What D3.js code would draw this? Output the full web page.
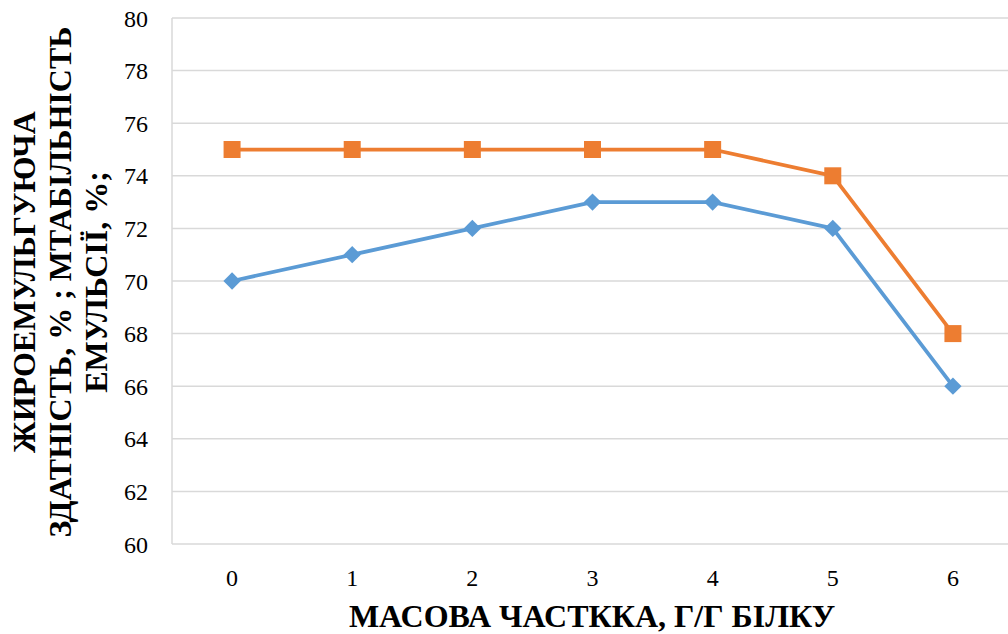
<!DOCTYPE html>
<html>
<head>
<meta charset="utf-8">
<script src="https://cdn.jsdelivr.net/npm/d3@7/dist/d3.min.js"></script>
<style>
  html, body { margin: 0; padding: 0; background: #fff; }
  svg { display: block; }
  text { font-family: "Liberation Serif", "Times New Roman", serif; fill: #000; }
</style>
</head>
<body>
<svg id="chart" width="1008" height="634"></svg>
<script>
// Mass fraction, g/g protein
const categories = ["0", "1", "2", "3", "4", "5", "6"];
// Fat-emulsifying capacity, %
const capacityValues = [70, 71, 72, 73, 73, 72, 66];
// Emulsion stability, %
const stabilityValues = [75, 75, 75, 75, 75, 74, 68];
const yTicks = [60, 62, 64, 66, 68, 70, 72, 74, 76, 78, 80];

const xTitle = "МАСОВА ЧАСТККА, Г/Г БІЛКУ";
const yTitleLines = ["ЖИРОЕМУЛЬГУЮЧА", "ЗДАТНІСТЬ, % ; МТАБІЛЬНІСТЬ", "ЕМУЛЬСІЇ, %;"];

const serif = "'Liberation Serif', 'Times New Roman', serif";
const svg = d3.select("#chart");
const plot = { left: 172, right: 1013, top: 18, bottom: 544 };

const x = d3.scaleBand().domain(categories).range([plot.left, plot.right]);
const y = d3.scaleLinear().domain([60, 80]).range([plot.bottom, plot.top]);
const cx = d => x(d) + x.bandwidth() / 2;

// Horizontal gridlines
svg.append("g")
  .selectAll("line")
  .data(yTicks)
  .join("line")
  .attr("x1", plot.left).attr("x2", plot.right)
  .attr("y1", d => y(d)).attr("y2", d => y(d))
  .attr("stroke", "#d9d9d9").attr("stroke-width", 1.5);

// Left border of the plot area
svg.append("line")
  .attr("x1", plot.left).attr("x2", plot.left)
  .attr("y1", plot.top).attr("y2", plot.bottom)
  .attr("stroke", "#d9d9d9").attr("stroke-width", 1.5);

// Y tick labels
const yAxis = svg.append("g")
  .attr("transform", `translate(${plot.left - 24},0)`)
  .call(d3.axisLeft(y).tickValues(yTicks).tickSize(0).tickPadding(0))
  .attr("font-family", serif).attr("font-size", 24);
yAxis.select(".domain").remove();
yAxis.selectAll("text")
  .style("font-family", serif).style("font-size", "24px").attr("fill", "#000")
  .attr("dy", "0.34em");

// X tick labels
const xAxis = svg.append("g")
  .attr("transform", `translate(0,${plot.bottom})`)
  .call(d3.axisBottom(x).tickSize(0).tickPadding(0))
  .attr("font-family", serif).attr("font-size", 24);
xAxis.select(".domain").remove();
xAxis.selectAll("text")
  .style("font-family", serif).style("font-size", "24px").attr("fill", "#000")
  .attr("y", 42).attr("dy", 0);

// Axis titles
svg.append("text")
  .attr("x", 592).attr("y", 627)
  .attr("text-anchor", "middle")
  .style("font-family", serif).style("font-size", "32px").style("font-weight", "bold")
  .text(xTitle);

const yTitle = svg.append("text")
  .attr("transform", "translate(35,282) rotate(-90)")
  .attr("text-anchor", "middle")
  .style("font-family", serif).style("font-size", "32px").style("font-weight", "bold");
yTitleLines.forEach((t, i) => {
  yTitle.append("tspan").attr("x", 0).attr("dy", i === 0 ? 0 : 36).text(t);
});

const line = d3.line().x((d, i) => cx(categories[i])).y(d => y(d));

// Fat-emulsifying capacity (blue, diamonds)
svg.append("path")
  .datum(capacityValues)
  .attr("d", line)
  .attr("fill", "none").attr("stroke", "#5b9bd5").attr("stroke-width", 3.75)
  .attr("stroke-linejoin", "round");
svg.append("g")
  .selectAll("path")
  .data(capacityValues)
  .join("path")
  .attr("d", d3.symbol().type(d3.symbolSquare).size(150))
  .attr("transform", (d, i) => `translate(${cx(categories[i])},${y(d)}) rotate(45)`)
  .attr("fill", "#5b9bd5");

// Emulsion stability (orange, squares)
svg.append("path")
  .datum(stabilityValues)
  .attr("d", line)
  .attr("fill", "none").attr("stroke", "#ed7d31").attr("stroke-width", 3.75)
  .attr("stroke-linejoin", "round");
svg.append("g")
  .selectAll("rect")
  .data(stabilityValues)
  .join("rect")
  .attr("x", (d, i) => cx(categories[i]) - 8.5)
  .attr("y", d => y(d) - 8.5)
  .attr("width", 17).attr("height", 17)
  .attr("fill", "#ed7d31");
</script>
</body>
</html>
